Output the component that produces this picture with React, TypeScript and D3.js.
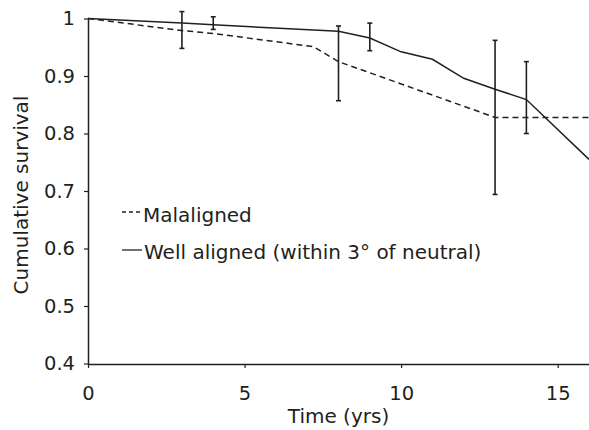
import React, { useRef, useEffect } from 'react';
import * as d3 from 'd3';

// values
const wellTimes = [0, 3, 4, 8, 9, 10, 11, 12, 13, 14, 16];
const wellSurvival = [1, 0.992, 0.989, 0.978, 0.966, 0.942, 0.929, 0.896, 0.877, 0.859, 0.755];

const malTimes = [0, 3, 4, 7.2, 8, 13, 16];
const malSurvival = [1, 0.979, 0.974, 0.951, 0.925, 0.828, 0.828];

const barTimes = [3, 4, 8, 9, 13, 14];
const barLow = [0.948, 0.981, 0.857, 0.944, 0.694, 0.8];
const barHigh = [1.012, 1.003, 0.987, 0.992, 0.962, 0.925];

const xTicks = [0, 5, 10, 15];
const yTicks = [0.4, 0.5, 0.6, 0.7, 0.8, 0.9, 1];
const yTickLabels = ['0.4', '0.5', '0.6', '0.7', '0.8', '0.9', '1'];

const legendLabels = ['Malaligned', 'Well aligned (within 3\u00b0 of neutral)'];

const App = () => {
  const svgRef = useRef(null);

  useEffect(() => {
    const width = 589;
    const height = 430;
    const ink = '#231f20';
    const font = '"DejaVu Sans", sans-serif';

    const svg = d3.select(svgRef.current)
      .attr('width', width)
      .attr('height', height);
    svg.selectAll('*').remove();

    const x = d3.scaleLinear().domain([0, 16]).range([88, 589]);
    const y = d3.scaleLinear().domain([0.4, 1]).range([363.5, 18.5]);

    // axes
    const xAxis = svg.append('g')
      .attr('transform', 'translate(0,364)')
      .call(d3.axisBottom(x).tickValues(xTicks).tickSize(4).tickSizeOuter(0).tickPadding(18).tickFormat(d3.format('d')));
    const yAxis = svg.append('g')
      .attr('transform', 'translate(88,0)')
      .call(d3.axisLeft(y).tickValues(yTicks).tickSize(4).tickSizeOuter(0).tickPadding(9)
        .tickFormat((d, i) => yTickLabels[i]));

    [xAxis, yAxis].forEach(a => {
      a.select('.domain').attr('stroke', ink).attr('stroke-width', 1.5);
      a.selectAll('.tick line').attr('stroke', ink).attr('stroke-width', 1.2);
      a.selectAll('.tick text')
        .attr('fill', ink)
        .style('font-family', font)
        .style('font-size', '19.5px');
    });

    // axis titles
    svg.append('text')
      .attr('x', (x(0) + x(16)) / 2)
      .attr('y', 423)
      .attr('text-anchor', 'middle')
      .attr('fill', ink)
      .style('font-family', font)
      .style('font-size', '20px')
      .text('Time (yrs)');

    svg.append('text')
      .attr('transform', `translate(28,${195}) rotate(-90)`)
      .attr('text-anchor', 'middle')
      .attr('fill', ink)
      .style('font-family', font)
      .style('font-size', '20px')
      .text('Cumulative survival');

    // survival curves
    const line = d3.line().x(d => x(d[0])).y(d => y(d[1]));

    svg.append('path')
      .datum(malTimes.map((t, i) => [t, malSurvival[i]]))
      .attr('d', line)
      .attr('fill', 'none')
      .attr('stroke', ink)
      .attr('stroke-width', 1.5)
      .attr('stroke-dasharray', '6,4');

    svg.append('path')
      .datum(wellTimes.map((t, i) => [t, wellSurvival[i]]))
      .attr('d', line)
      .attr('fill', 'none')
      .attr('stroke', ink)
      .attr('stroke-width', 1.5);

    // error bars
    const bars = svg.append('g')
      .selectAll('g')
      .data(barTimes.map((t, i) => ({ t, lo: barLow[i], hi: barHigh[i] })))
      .enter()
      .append('g')
      .attr('stroke', ink)
      .attr('stroke-width', 1.6);

    bars.append('line')
      .attr('x1', d => x(d.t)).attr('x2', d => x(d.t))
      .attr('y1', d => y(d.lo)).attr('y2', d => y(d.hi));
    bars.append('line')
      .attr('x1', d => x(d.t) - 2.5).attr('x2', d => x(d.t) + 2.5)
      .attr('y1', d => y(d.lo)).attr('y2', d => y(d.lo));
    bars.append('line')
      .attr('x1', d => x(d.t) - 2.5).attr('x2', d => x(d.t) + 2.5)
      .attr('y1', d => y(d.hi)).attr('y2', d => y(d.hi));

    // legend
    const legend = svg.append('g');
    const rows = [
      { label: legendLabels[0], dash: '4,3', ly: 212, ty: 222, tx: 143 },
      { label: legendLabels[1], dash: null, ly: 250, ty: 259, tx: 144 }
    ];
    rows.forEach(r => {
      legend.append('line')
        .attr('x1', 122).attr('x2', 142)
        .attr('y1', r.ly).attr('y2', r.ly)
        .attr('stroke', ink)
        .attr('stroke-width', 1.3)
        .attr('stroke-dasharray', r.dash);
      legend.append('text')
        .attr('x', r.tx)
        .attr('y', r.ty)
        .attr('fill', ink)
        .style('font-family', font)
        .style('font-size', '20px')
        .text(r.label);
    });

    return () => {
      d3.select(svgRef.current).selectAll('*').remove();
    };
  }, []);

  return (
    <div style={{ position: 'absolute', left: 0, top: 0, background: '#fff' }}>
      <svg ref={svgRef} style={{ display: 'block' }}></svg>
    </div>
  );
};

export default App;
